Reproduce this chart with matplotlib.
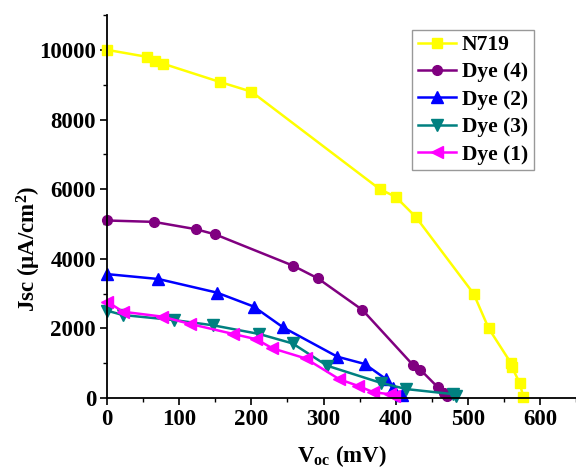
import matplotlib
matplotlib.use("Agg")
import matplotlib.pyplot as plt
from matplotlib.ticker import MultipleLocator

plt.rcParams['font.family'] = 'Liberation Serif'
plt.rcParams['font.weight'] = 'bold'
plt.rcParams['mathtext.fontset'] = 'custom'
plt.rcParams['mathtext.rm'] = 'Liberation Serif:bold'
plt.rcParams['mathtext.it'] = 'Liberation Serif:bold'
plt.rcParams['mathtext.bf'] = 'Liberation Serif:bold'

# J-V data, Voc in mV and Jsc in uA/cm2
n719_v = [0, 55, 66, 78, 156, 200, 378, 400, 428, 508, 529, 560, 561, 572, 577]
n719_j = [10000, 9800, 9680, 9600, 9080, 8800, 6000, 5780, 5200, 3000, 2000, 1000, 900, 430, 30]

dye4_v = [0, 65, 123, 150, 258, 292, 354, 424, 434, 458, 467, 471]
dye4_j = [5100, 5060, 4850, 4700, 3800, 3440, 2530, 950, 820, 320, 160, 50]

dye2_v = [0, 71, 152, 203, 244, 319, 357, 387, 396, 409]
dye2_j = [3560, 3420, 3030, 2630, 2030, 1190, 980, 540, 280, 90]

dye3_v = [0, 22, 93, 147, 211, 257, 305, 379, 415, 479, 483]
dye3_j = [2510, 2385, 2240, 2090, 1840, 1570, 930, 440, 258, 115, 60]

dye1_v = [0, 22, 76, 115, 175, 207, 229, 275, 322, 348, 369, 392, 398]
dye1_j = [2770, 2480, 2340, 2130, 1840, 1690, 1430, 1140, 540, 350, 170, 110, 50]

fig = plt.figure(figsize=(5.76, 4.70), dpi=100)
ax = fig.add_axes([0.186, 0.153, 0.814, 0.815])

ax.plot(n719_v, n719_j, color='#FFFF00', marker='s', ms=7, lw=1.8, label='N719')
ax.plot(dye4_v, dye4_j, color='#800080', marker='o', ms=7, lw=1.8, label='Dye (4)')
ax.plot(dye2_v, dye2_j, color='#0000FF', marker='^', ms=8, lw=1.8, label='Dye (2)')
ax.plot(dye3_v, dye3_j, color='#008080', marker='v', ms=8, lw=1.8, label='Dye (3)')
ax.plot(dye1_v, dye1_j, color='#FF00FF', marker='<', ms=8, lw=1.8, label='Dye (1)')

ax.set_xlim(0, 650)
ax.set_ylim(0, 11000)
ax.xaxis.set_major_locator(MultipleLocator(100))
ax.xaxis.set_minor_locator(MultipleLocator(50))
ax.yaxis.set_major_locator(MultipleLocator(2000))
ax.yaxis.set_minor_locator(MultipleLocator(1000))
ax.tick_params(which='major', direction='out', length=5, width=1.2, labelsize=16.5, pad=3)
ax.tick_params(which='minor', direction='out', length=3, width=1.0)
for side in ['top', 'right']:
    ax.spines[side].set_visible(False)
for side in ['left', 'bottom']:
    ax.spines[side].set_linewidth(1.3)
for line in ax.lines:
    line.set_clip_on(False)

ax.set_xlabel('V$_{oc}$ (mV)', fontsize=16.5, fontweight='bold', labelpad=9)
ax.set_ylabel('Jsc ($\\mu$A/cm$^2$)', fontsize=16.5, fontweight='bold')
ax.yaxis.set_label_coords(-0.137, 0.39)

leg = ax.legend(loc='upper left', bbox_to_anchor=(0.651, 0.962), fontsize=15.5,
                frameon=True, fancybox=False, handlelength=1.8,
                borderpad=0.25, labelspacing=0.34, handletextpad=0.25,
                borderaxespad=0)
leg.get_frame().set_edgecolor('#808080')
leg.get_frame().set_linewidth(1.0)

fig.savefig('out.png', dpi=100)
